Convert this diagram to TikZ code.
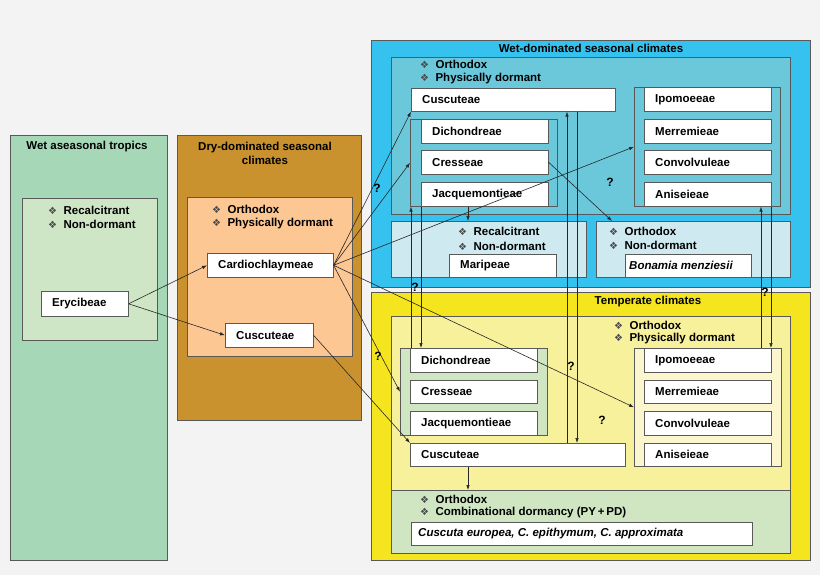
\documentclass[tikz,border=0pt]{standalone}
\usepackage{fontspec}
\setmainfont{Liberation Sans}
\newfontfamily\djv{DejaVu Sans}
\begin{document}
\definecolor{bgc}{HTML}{F3F3F3}
\definecolor{gA}{HTML}{A6D8B8}\definecolor{gAi}{HTML}{CFE6C6}
\definecolor{brA}{HTML}{C9922E}\definecolor{peach}{HTML}{FCC793}
\definecolor{blA}{HTML}{35C2EE}\definecolor{teal}{HTML}{6BC8DB}\definecolor{lb}{HTML}{CFE9F0}
\definecolor{yA}{HTML}{F4E51F}\definecolor{ly}{HTML}{F8F19C}\definecolor{gb}{HTML}{D0E6C2}\definecolor{ry}{HTML}{FBF6CE}
\newcommand\rbox[6]{\node[rb,fill=#6,minimum width={(#4-#2)*1pt},minimum height={(#5-#3)*1pt}] (#1) at (#2,#3) {};}
\newcommand\lbox[7]{\rbox{#1}{#2}{#3}{#4}{#5}{white}\node[lab] (#1t) at ([xshift=11pt]#1.west) {#7};}
\newcommand\dmd{{\djv\fontsize{10}{10}\selectfont\color{black!70}❖}\ \ }
\tikzset{rb/.style={draw=black!65,anchor=north west,inner sep=0,line width=0.6pt},
 lab/.style={anchor=west,inner sep=0,font=\bfseries\fontsize{11.5}{12}\selectfont},
 ttl/.style={inner sep=0,font=\bfseries\fontsize{11.5}{14}\selectfont,align=center},
 ar/.style={-{Latex[length=5pt,width=3.5pt]},line width=0.6pt,black!85},
 q/.style={font=\bfseries\fontsize{12}{12}\selectfont,inner sep=0}}
\usetikzlibrary{arrows.meta}
\begin{tikzpicture}[x=1pt,y=-1pt]
\useasboundingbox[fill=bgc] (0,0) rectangle (820,575);
% left
\rbox{wet}{10}{135}{167}{560}{gA}
\node[ttl] (wett) at (87,147) {Wet aseasonal tropics};
\rbox{weti}{22}{198}{157}{340}{gAi}
\node[lab] (Recalcitrant) at (48,210) {\dmd Recalcitrant};
\node[lab] (Nondormant) at (48,224) {\dmd Non-dormant};
\lbox{ery}{41}{291}{128}{316}{}{Erycibeae}
% dry
\rbox{dry}{177}{135}{361}{420}{brA}
\node[ttl] (dryt) at (265,153) {Dry-dominated seasonal\\climates};
\rbox{dryi}{187}{197}{352}{356}{peach}
\node[lab] (o1) at (212,209) {\dmd Orthodox};
\node[lab] (p1) at (212,224) {\dmd Physically dormant};
\lbox{card}{207}{253}{333}{277}{}{Cardiochlaymeae}
\lbox{dcus}{225}{323}{313}{347}{}{Cuscuteae}
% wet seasonal
\rbox{ws}{371}{40}{810}{287}{blA}
\node[ttl] (wst) at (591,48) {Wet-dominated seasonal climates};
\rbox{wsi}{391}{57}{790}{214}{teal}
\node[lab] (o2) at (420,64) {\dmd Orthodox};
\node[lab] (p2) at (420,79) {\dmd Physically dormant};
\lbox{bcus}{411}{88}{615}{111}{}{Cuscuteae}
\rbox{bgl}{410}{119}{557}{206}{teal}
\lbox{bdic}{421}{119}{548}{143}{}{Dichondreae}
\lbox{bcre}{421}{150}{548}{174}{}{Cresseae}
\lbox{bjac}{421}{182}{548}{206}{}{Jacquemontieae}
\rbox{bgr}{634}{87}{780}{206}{teal}
\lbox{bipo}{644}{87}{771}{111}{}{Ipomoeeae}
\lbox{bmer}{644}{119}{771}{143}{}{Merremieae}
\lbox{bcon}{644}{150}{771}{174}{}{Convolvuleae}
\lbox{bani}{644}{182}{771}{206}{}{Aniseieae}
\rbox{lbl}{391}{221}{586}{277}{lb}
\node[lab] (r3) at (458,231) {\dmd Recalcitrant};
\node[lab] (n3) at (458,246) {\dmd Non-dormant};
\lbox{mar}{449}{254}{556}{277}{}{Maripeae}
\rbox{lbr}{596}{221}{790}{277}{lb}
\node[lab] (o4) at (609,231) {\dmd Orthodox};
\node[lab] (n4) at (609,245) {\dmd Non-dormant};
\rbox{bon}{625}{254}{751}{277}{white}
\node[lab,font=\bfseries\itshape\fontsize{11.5}{12}\selectfont] (bont) at ([xshift=4pt]bon.west) {Bonamia menziesii};
% temperate
\rbox{tem}{371}{292}{810}{560}{yA}
\node[ttl] (temt) at (648,302) {Temperate climates};
\rbox{temi}{391}{316}{790}{490}{ly}
\rbox{temg}{391}{490}{790}{553}{gb}
\node[lab] (o5) at (614,325) {\dmd Orthodox};
\node[lab] (p5) at (614,339) {\dmd Physically dormant};
\rbox{tgl}{400}{348}{547}{435}{gb}
\lbox{tdic}{410}{348}{537}{372}{}{Dichondreae}
\lbox{tcre}{410}{380}{537}{403}{}{Cresseae}
\lbox{tjac}{410}{411}{537}{435}{}{Jacquemontieae}
\lbox{tcus}{410}{443}{625}{466}{}{Cuscuteae}
\rbox{tgr}{634}{348}{781}{466}{ry}
\lbox{tipo}{644}{348}{771}{372}{}{Ipomoeeae}
\lbox{tmer}{644}{380}{771}{403}{}{Merremieae}
\lbox{tcon}{644}{411}{771}{435}{}{Convolvuleae}
\lbox{tani}{644}{443}{771}{466}{}{Aniseieae}
\node[lab] (o6) at (420,499) {\dmd Orthodox};
\node[lab] (c6) at (420,513) {\dmd Combinational dormancy (PY\,+\,PD)};
\rbox{cus}{411}{522}{752}{545}{white}
\node[lab,font=\bfseries\itshape\fontsize{11.5}{12}\selectfont] (cust) at ([xshift=7pt]cus.west) {Cuscuta europea, C. epithymum, C. approximata};
% arrows
\draw[ar] (ery.east) -- (card.west);
\draw[ar] (ery.east) -- (dcus.west);
\draw[ar] (card.east) -- (bcus.south west);
\draw[ar] (card.east) -- (bgl.west);
\draw[ar] (card.east) -- (bgr.west);
\draw[ar] (card.east) -- (tgr.west);
\draw[ar] (card.east) -- (tgl.west);
\draw[ar] (dcus.east) -- (tcus.north west);
\draw[ar] (bcre.east) -- (lbr.north -| 612,0);
\draw[ar] (bjac.south -| 468,0) -- (lbl.north -| 468,0);
\draw[ar] (tgl.north -| 411,0) -- (bgl.south -| 411,0);
\draw[ar] (bgl.south -| 421,0) -- (tgl.north -| 421,0);
\draw[ar] (tcus.north -| 567,0) -- (bcus.south -| 567,0);
\draw[ar] (bcus.south -| 577,0) -- (tcus.north -| 577,0);
\draw[ar] (tgr.north -| 761,0) -- (bgr.south -| 761,0);
\draw[ar] (bgr.south -| 771,0) -- (tgr.north -| 771,0);
\draw[ar] (tcus.south -| 468,0) -- (temg.north -| 468,0);
\node[q] (q1) at (377,188) {?};
\node[q] (q2) at (610,182) {?};
\node[q] (q3) at (415,287) {?};
\node[q] (q4) at (765,292) {?};
\node[q] (q5) at (378,356) {?};
\node[q] (q6) at (571,366) {?};
\node[q] (q7) at (602,420) {?};
\end{tikzpicture}
\end{document}
